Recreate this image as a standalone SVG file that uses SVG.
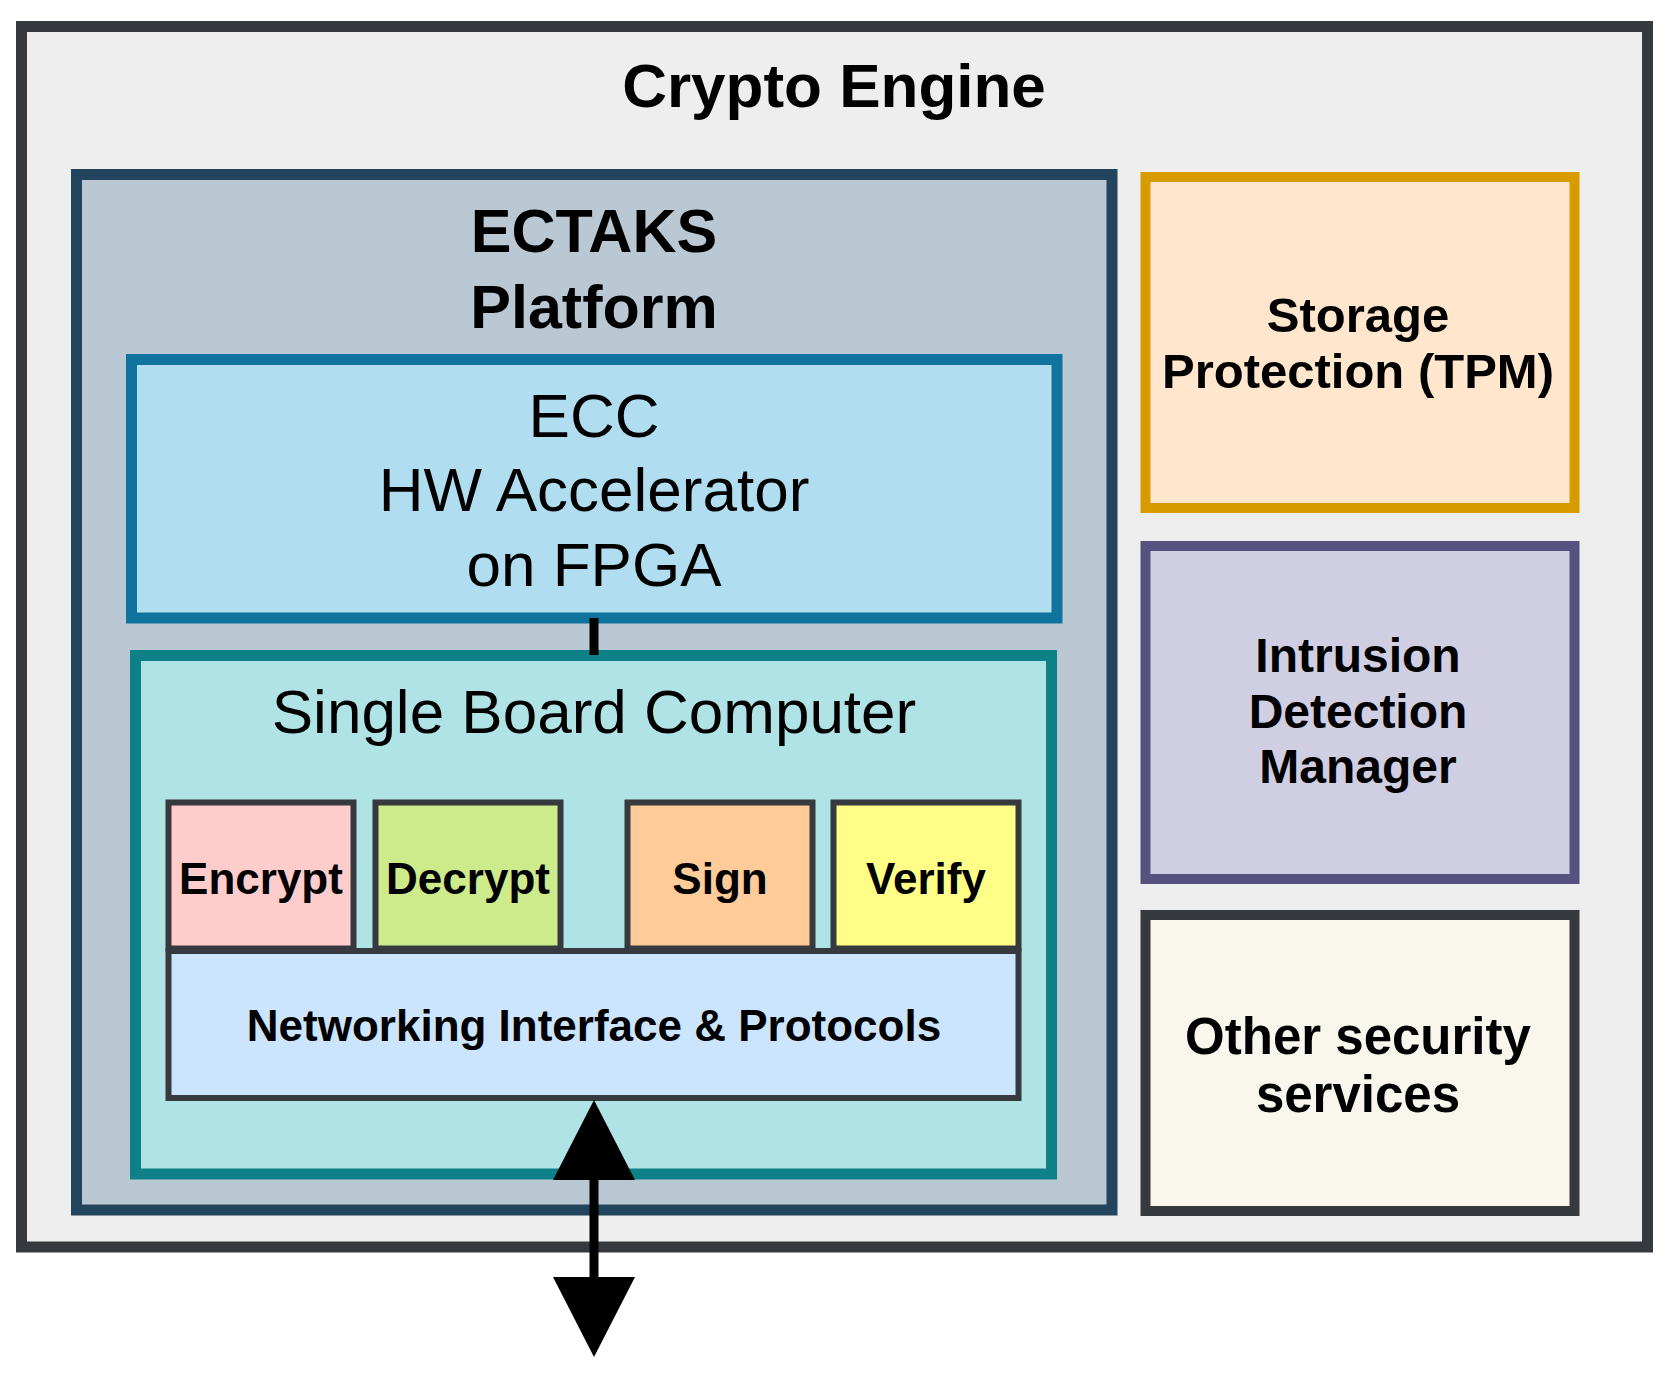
<svg xmlns="http://www.w3.org/2000/svg" width="1671" height="1377" viewBox="0 0 1671 1377">
<style>
text{font-family:"Liberation Sans",Arial,sans-serif;text-anchor:middle;fill:#000}
.b{font-weight:bold}
rect{stroke-width:11}
</style>
<rect width="1671" height="1377" fill="#fff" stroke="none"/>
<g id="crypto"><rect x="21.5" y="26.5" width="1626" height="1220.5" fill="#eeeeee" stroke="#36393d"/>
<text class="b" x="834" y="107" font-size="62">Crypto Engine</text></g>
<g id="ectaks"><rect x="76.5" y="174.5" width="1035.5" height="1035.5" fill="#bac8d3" stroke="#23445d"/>
<text class="b" x="594" y="252" font-size="61">ECTAKS</text><text class="b" x="594" y="328" font-size="61">Platform</text></g>
<g id="ecc"><rect x="131.5" y="359.5" width="925.5" height="258.5" fill="#b1ddf0" stroke="#10739e"/>
<text x="594" y="437" font-size="62">ECC</text><text x="594" y="511" font-size="62">HW Accelerator</text><text x="594" y="586" font-size="62">on FPGA</text></g>
<g id="sbc"><rect x="135.5" y="655.5" width="916" height="518.5" fill="#b0e3e6" stroke="#0e8088"/>
<text x="594" y="733" font-size="62">Single Board Computer</text></g>
<g id="encrypt"><rect x="168.5" y="802.5" width="185" height="146" fill="#ffcccc" stroke="#36393d" style="stroke-width:6"/><text class="b" x="261" y="894" font-size="44">Encrypt</text></g>
<g id="decrypt"><rect x="375.5" y="802.5" width="185" height="146" fill="#cdeb8b" stroke="#36393d" style="stroke-width:6"/><text class="b" x="468" y="894" font-size="44">Decrypt</text></g>
<g id="sign"><rect x="627.5" y="802.5" width="185" height="146" fill="#ffcc99" stroke="#36393d" style="stroke-width:6"/><text class="b" x="720" y="894" font-size="44">Sign</text></g>
<g id="verify"><rect x="833.5" y="802.5" width="185" height="146" fill="#ffff88" stroke="#36393d" style="stroke-width:6"/><text class="b" x="926" y="894" font-size="44">Verify</text></g>
<g id="net"><rect x="168.5" y="951" width="850" height="147" fill="#cce5ff" stroke="#36393d" style="stroke-width:6"/><text class="b" x="594" y="1041" font-size="44">Networking Interface &amp; Protocols</text></g>
<g id="storage"><rect x="1145.5" y="177" width="429" height="331" fill="#ffe6cc" stroke="#d79b00" style="stroke-width:10"/>
<text class="b" x="1358" y="332" font-size="49">Storage</text><text class="b" x="1358" y="388" font-size="49">Protection (TPM)</text></g>
<g id="intrusion"><rect x="1145.5" y="546" width="429" height="333" fill="#d0cee2" stroke="#56517e" style="stroke-width:10"/>
<text class="b" x="1358" y="672" font-size="48">Intrusion</text><text class="b" x="1358" y="728" font-size="48">Detection</text><text class="b" x="1358" y="783" font-size="48">Manager</text></g>
<g id="other"><rect x="1145.5" y="915" width="429" height="296" fill="#f9f7ed" stroke="#36393d" style="stroke-width:10"/>
<text class="b" x="1358" y="1054" font-size="51">Other security</text><text class="b" x="1358" y="1112" font-size="51">services</text></g>
<g id="connectors">
<line x1="594" y1="618" x2="594" y2="655" stroke="#000" stroke-width="9"/>
<line x1="594" y1="1170" x2="594" y2="1290" stroke="#000" stroke-width="9"/>
<path d="M553,1180L594,1100L635,1180z" fill="#000"/>
<path d="M553,1277L594,1357L635,1277z" fill="#000"/>
</g>
</svg>
